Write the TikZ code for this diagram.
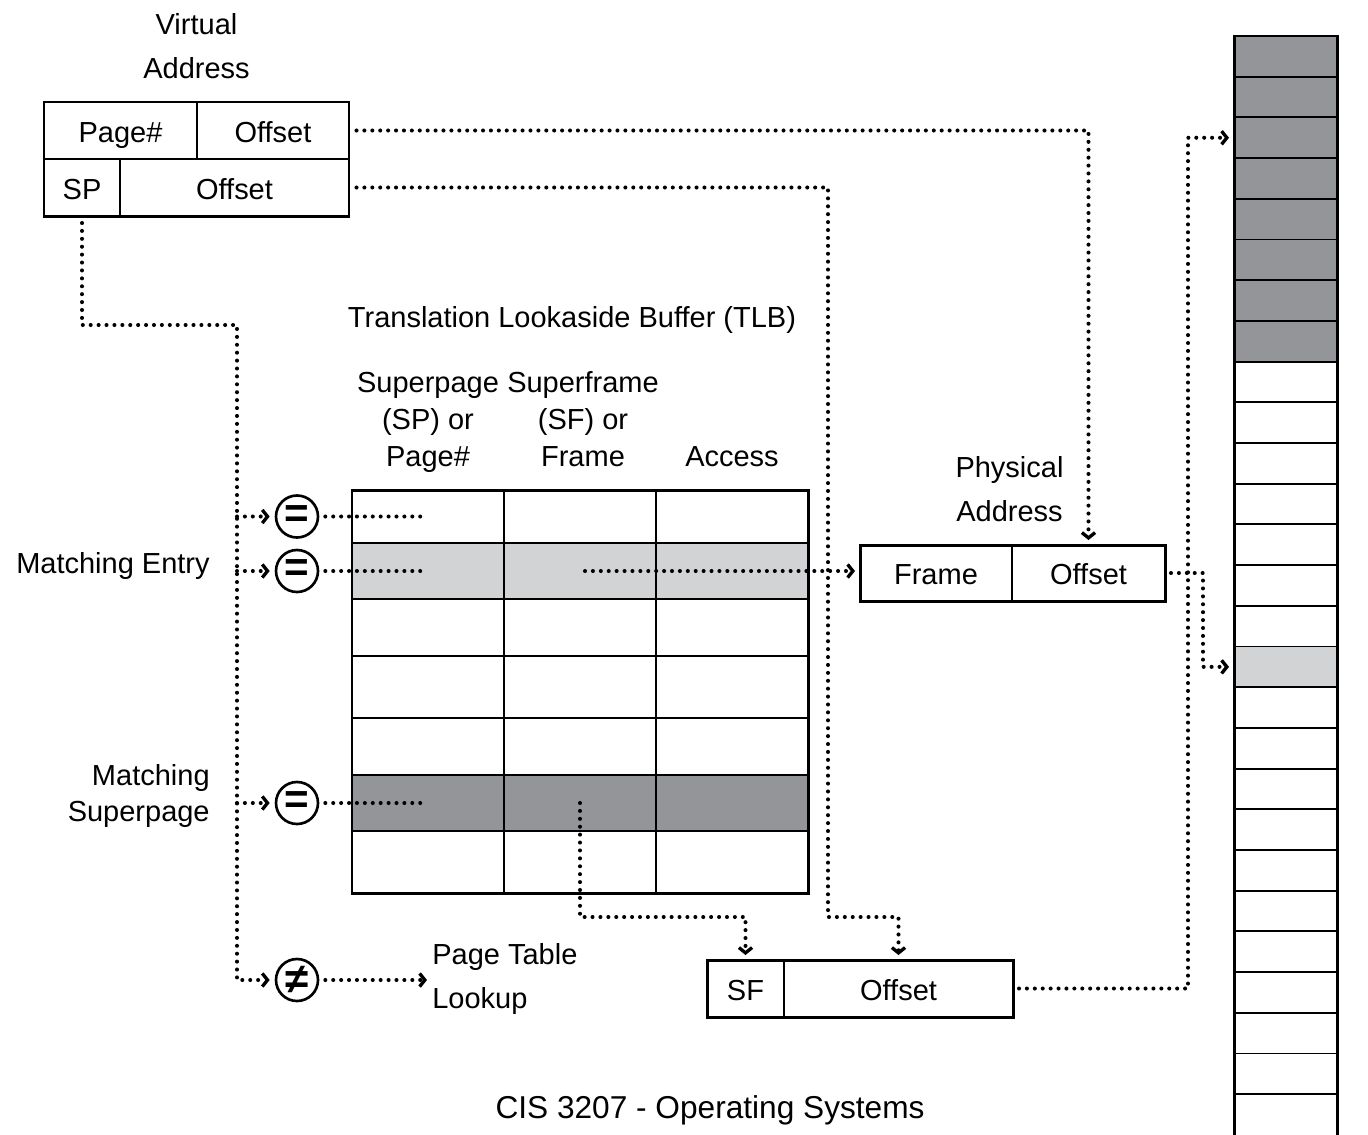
\documentclass[tikz,border=0pt]{standalone}
\usepackage{fontspec}
\setmainfont{Liberation Sans}
\usetikzlibrary{arrows.meta, positioning, fit, calc}
\definecolor{hitgray}{RGB}{209,211,212}
\definecolor{supgray}{RGB}{147,149,152}

\begin{document}
\begin{tikzpicture}[
    lbl/.style={font=\fontsize{16.5}{21}\selectfont, inner sep=0pt},
    widelbl/.style={font=\fontsize{16.5}{25.5}\selectfont, inner sep=0pt},
    cell/.style={draw, line width=1.1pt, inner sep=0pt, outer sep=0pt, text height=14pt, text depth=0.5pt, font=\fontsize{16.5}{21}\selectfont},
    outerbox/.style={draw, line width=1.7pt, inner sep=0pt},
    cmp/.style={circle, draw, line width=1.5pt, minimum size=0.84cm, inner sep=0pt, font=\fontsize{24}{24}\selectfont\bfseries},
    dotline/.style={line width=2.3pt, line cap=round, dash pattern=on 0pt off 4.5pt},
    ptr/.style={-{Straight Barb[length=3pt, width=7.5pt, line width=1.9pt]}, shorten >=0.1cm}
]
\useasboundingbox (0,0) rectangle (27.36,-22.68);

% Virtual address - two layouts of the same word
\node[cell, minimum width=3.06cm, minimum height=1.14cm, anchor=north west] (vpage) at (0.88,-2.04) {Page\#};
\node[cell, minimum width=3.04cm, minimum height=1.14cm, right=0pt of vpage] (voff) {Offset};
\node[cell, minimum width=1.52cm, minimum height=1.14cm, anchor=north west] (vsp) at (vpage.south west) {SP};
\node[cell, minimum width=4.58cm, minimum height=1.14cm, right=0pt of vsp] (vsoff) {Offset};
\node[outerbox, fit=(vpage)(vsoff)] (vaddr) {};
\node[widelbl, align=center, above=0.42cm of vaddr] (vtitle) {Virtual\\Address};

% TLB entries
\foreach \r/\rowy/\rowh/\clr in {1/9.80/1.06/white, 2/10.86/1.12/hitgray, 3/11.98/1.14/white, 4/13.12/1.24/white, 5/14.36/1.14/white, 6/15.50/1.12/supgray, 7/16.62/1.24/white} {
  \foreach \c in {1,2,3} {
    \node[cell, fill=\clr, minimum width=3.04cm, minimum height=\rowh cm, anchor=north west] (t\r\c) at ({7.04+3.04*(\c-1)},-\rowy) {};
  }
}
\node[outerbox, fit=(t11)(t73)] (tlb) {};
\node[lbl] (tlbtitle) at (11.44,-6.40) {Translation Lookaside Buffer (TLB)};
\node[lbl, align=center, text depth=0pt, anchor=south] (hsp) at ([yshift=0.46cm]t11.north) {Superpage\\(SP) or\\Page\#};
\node[lbl, align=center, text depth=0pt, anchor=south] (hsf) at ([yshift=0.46cm, xshift=0.06cm]t12.north) {Superframe\\(SF) or\\Frame};
\node[lbl, text depth=0pt, anchor=south] (hacc) at ([yshift=0.46cm]t13.north) {Access};

% Physical address
\node[cell, minimum width=3.04cm, minimum height=1.12cm, anchor=north west] (pframe) at (17.20,-10.90) {Frame};
\node[cell, minimum width=3.06cm, minimum height=1.12cm, right=0pt of pframe] (poff) {Offset};
\node[outerbox, fit=(pframe)(poff)] (paddr) {};
\node[widelbl, align=center, above=0.42cm of paddr, xshift=-0.06cm] (ptitle) {Physical\\Address};

% Superframe address
\node[cell, minimum width=1.54cm, minimum height=1.14cm, anchor=north west] (sfsf) at (14.14,-19.20) {SF};
\node[cell, minimum width=4.58cm, minimum height=1.14cm, right=0pt of sfsf] (sfoff) {Offset};
\node[outerbox, fit=(sfsf)(sfoff)] (sfaddr) {};

% Physical memory
\foreach \i in {1,...,26} {
  \ifnum\i<9 \def\shade{supgray}\else\ifnum\i=16 \def\shade{hitgray}\else\def\shade{white}\fi\fi
  \node[cell, fill=\shade, minimum width=2.06cm, minimum height=0.814cm, anchor=north west] (m\i) at (24.68,{-0.72-0.814*(\i-1)}) {};
}
\draw[line width=1.7pt] ([yshift=-2cm]m26.south west) |- (m1.north east) -- ([yshift=-2cm]m26.south east);

% Comparators
\coordinate (cmpcol) at (5.94,0);
\node[cmp] (eq1) at (cmpcol |- t11.west) {=};
\node[cmp] (eq2) at (cmpcol |- t21.west) {=};
\node[cmp] (eq6) at (cmpcol |- t61.west) {=};
\node[cmp] (neq) at (5.94,-19.60) {≠};
\node[lbl, anchor=east] (lblentry) at (4.20,-11.32) {Matching Entry};
\node[lbl, align=right, anchor=east] (lblsuper) at (4.20,-15.92) {Matching\\Superpage};
\node[widelbl, align=left, anchor=west] (ptl) at (8.64,-19.58) {Page Table\\Lookup};

% Connections
\coordinate (bus) at (4.74,-6.50);
\coordinate (probe) at (8.52,0);
\draw[dotline, ptr, shorten <=0.14cm] (vsp.south) |- (bus) |- (neq.west);
\foreach \c in {eq1,eq2,eq6} {
  \draw[dotline, ptr] (bus |- \c.west) -- (\c.west);
  \draw[dotline, shorten <=0.12cm] (\c.east) -- (probe |- \c.east);
}
\draw[dotline, ptr, shorten <=0.12cm] (neq.east) -- (neq.east -| ptl.west);

\draw[dotline, ptr, shorten <=0.15cm] (voff.east) -| (poff.north);
\coordinate (midrail) at (16.56,-18.34);
\draw[dotline, ptr, shorten <=0.15cm] (vsoff.east) -| (midrail) -| (sfoff.north);

\draw[dotline, ptr, shorten <=0.1cm] (t22.center) -- (t22.center -| pframe.west);
\coordinate (lowrail) at (0,-18.34);
\draw[dotline, ptr] (t62.center) |- (lowrail -| sfsf.north) -- (sfsf.north);

\coordinate (memrail) at (23.76,0);
\coordinate (memrail2) at (24.06,0);
\draw[dotline, ptr, shorten <=0.12cm] (sfoff.east) -| (memrail |- m3.west) -- (m3.west);
\draw[dotline, ptr, shorten <=0.12cm] (poff.east) -| (memrail2 |- m16.west) -- (m16.west);

\node[font=\fontsize{18}{18}\selectfont, inner sep=0pt] (footer) at (14.20,-22.20) {CIS 3207 - Operating Systems};
\end{tikzpicture}
\end{document}
